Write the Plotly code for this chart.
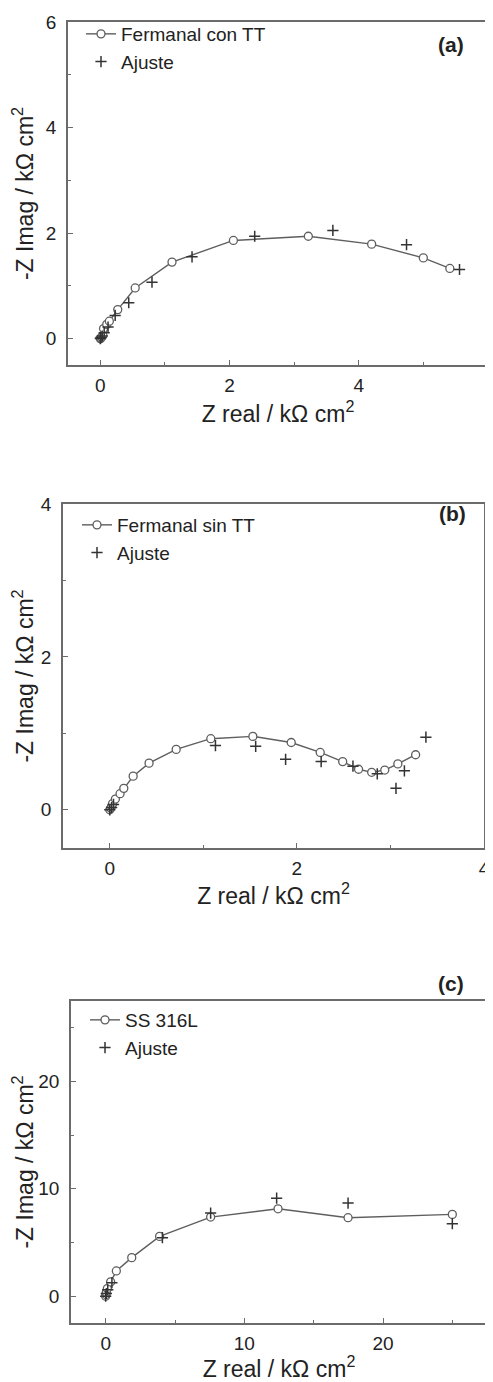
import plotly.graph_objects as go

# ---------------- data (kΩ cm²) ----------------
# Panel (a) Fermanal con TT
a_exp_x = [0.00, 0.01, 0.02, 0.04, 0.05, 0.10, 0.14, 0.27, 0.54, 1.11, 2.06, 3.22, 4.20, 5.00, 5.41]
a_exp_y = [0.00, 0.01, 0.03, 0.06, 0.19, 0.27, 0.33, 0.55, 0.96, 1.45, 1.86, 1.94, 1.79, 1.53, 1.33]
a_fit_x = [0.00, 0.01, 0.03, 0.06, 0.12, 0.23, 0.44, 0.80, 1.42, 2.39, 3.60, 4.74, 5.56]
a_fit_y = [0.00, 0.02, 0.05, 0.11, 0.22, 0.44, 0.68, 1.07, 1.55, 1.94, 2.05, 1.78, 1.31]

# Panel (b) Fermanal sin TT
b_exp_x = [0.00, 0.01, 0.02, 0.03, 0.06, 0.11, 0.15, 0.25, 0.42, 0.71, 1.08, 1.53, 1.94, 2.25, 2.49, 2.66, 2.80, 2.94, 3.08, 3.27]
b_exp_y = [0.00, 0.02, 0.05, 0.08, 0.14, 0.21, 0.28, 0.44, 0.61, 0.79, 0.93, 0.96, 0.88, 0.75, 0.63, 0.53, 0.49, 0.52, 0.60, 0.72]
b_fit_x = [0.00, 0.02, 0.04, 1.13, 1.56, 1.88, 2.26, 2.60, 2.86, 3.06, 3.15, 3.38]
b_fit_y = [0.00, 0.03, 0.07, 0.84, 0.83, 0.66, 0.63, 0.57, 0.47, 0.28, 0.51, 0.95]

# Panel (c) SS 316L
c_exp_x = [0.00, 0.02, 0.05, 0.12, 0.36, 0.77, 1.88, 3.89, 7.57, 12.43, 17.48, 25.00]
c_exp_y = [0.00, 0.15, 0.35, 0.70, 1.33, 2.35, 3.59, 5.57, 7.37, 8.14, 7.31, 7.62]
c_fit_x = [0.00, 0.05, 0.15, 0.45, 4.09, 7.57, 12.33, 17.48, 25.00]
c_fit_y = [0.00, 0.25, 0.60, 1.25, 5.45, 7.74, 9.13, 8.67, 6.75]

series_names = ["Fermanal con TT", "Fermanal sin TT", "SS 316L"]
fit_name = "Ajuste"
panel_tags = ["(a)", "(b)", "(c)"]
x_ticks = [[0, 2, 4, 6], [0, 2, 4], [0, 10, 20]]
y_ticks = [[0, 2, 4, 6], [0, 2, 4], [0, 10, 20]]
x_title = "Z real / kΩ cm<sup>2</sup>"
y_title = "-Z Imag / kΩ cm<sup>2</sup>"

# ---------------- layout geometry (page pixels) ----------------
PAGE_W, PAGE_H = 493, 1382
OFF = 8  # default body margin of the html page
W, H = PAGE_W - OFF, PAGE_H - OFF
boxes = [  # left, right, top, bottom in page px
    (68, 488, 22, 365),
    (63, 484, 504, 848),
    (71, 487, 1001, 1323),
]
ranges = [([-0.5, 6.001], [-0.5, 6]), ([-0.5, 4.001], [-0.5, 4]), ([-2.5, 27.5], [-2.5, 27.5])]
minor_d = [1, 1, 5]
legend_pos = [(81, 15), (77, 506), (85, 1001)]
tag_pos = [(451, 45), (452, 513), (451, 983)]
x_standoff = [11, 10, 6]
y_standoff = [9, 9, 9]

DATA_C = "#5e5e5e"
FIT_C = "#333333"
AX_C = "#6b6b6b"
TXT_C = "#222222"
FONT = "Liberation Sans, Arial, sans-serif"


def px_x(v):
    return (v - OFF) / W


def px_y(v):
    return 1 - (v - OFF) / H


fig = go.Figure()
datasets = [
    (a_exp_x, a_exp_y, a_fit_x, a_fit_y),
    (b_exp_x, b_exp_y, b_fit_x, b_fit_y),
    (c_exp_x, c_exp_y, c_fit_x, c_fit_y),
]

annotations = []
for i, (ex, ey, fx, fy) in enumerate(datasets):
    n = "" if i == 0 else str(i + 1)
    lg = "legend" + n
    fig.add_trace(go.Scatter(
        x=ex, y=ey, mode="lines+markers", name=series_names[i],
        xaxis="x" + n, yaxis="y" + n, legend=lg,
        line=dict(color=DATA_C, width=1.4),
        marker=dict(symbol="circle", size=8, color="white",
                    line=dict(color=DATA_C, width=1.3)),
    ))
    fig.add_trace(go.Scatter(
        x=fx, y=fy, mode="markers", name=fit_name,
        xaxis="x" + n, yaxis="y" + n, legend=lg,
        marker=dict(symbol="cross-thin", size=8,
                    line=dict(color=FIT_C, width=1.5)),
    ))
    l, r, t, b = boxes[i]
    xd = [px_x(l), px_x(r)]
    yd = [px_y(b), px_y(t)]
    axis_common = dict(
        showline=True, mirror=True, linecolor=AX_C, linewidth=1.6,
        ticks="inside", ticklen=5, tickcolor=AX_C, tickwidth=1.2,
        showgrid=False, zeroline=False, automargin=False,
        tickfont=dict(family=FONT, size=19, color=TXT_C),
        minor=dict(ticks="inside", ticklen=3, tickcolor=AX_C, dtick=minor_d[i], showgrid=False),
    )
    fig.update_layout(**{
        "xaxis" + n: dict(
            domain=xd, anchor="y" + n, range=ranges[i][0],
            tickmode="array", tickvals=x_ticks[i],
            title=dict(text=x_title, font=dict(family=FONT, size=23, color=TXT_C), standoff=x_standoff[i]),
            ticklabelstandoff=2,
            **axis_common),
        "yaxis" + n: dict(
            domain=yd, anchor="x" + n, range=ranges[i][1],
            tickmode="array", tickvals=y_ticks[i],
            title=dict(text=y_title, font=dict(family=FONT, size=23, color=TXT_C), standoff=y_standoff[i]),
            ticklabelstandoff=6,
            **axis_common),
        lg: dict(
            x=px_x(legend_pos[i][0]), y=px_y(legend_pos[i][1]),
            xanchor="left", yanchor="top",
            bgcolor="rgba(0,0,0,0)", borderwidth=0,
            font=dict(family=FONT, size=19, color=TXT_C),
            tracegroupgap=0, itemwidth=30,
        ),
    })
    annotations.append(dict(
        text="<b>" + panel_tags[i] + "</b>", xref="paper", yref="paper",
        x=px_x(tag_pos[i][0]), y=px_y(tag_pos[i][1]),
        xanchor="center", yanchor="middle", showarrow=False,
        font=dict(family=FONT, size=21, color=TXT_C),
    ))

fig.update_layout(
    width=W, height=H,
    margin=dict(l=0, r=0, t=0, b=0, autoexpand=False),
    paper_bgcolor="white", plot_bgcolor="white",
    showlegend=True,
    annotations=annotations,
)

fig.write_html("out.html")
